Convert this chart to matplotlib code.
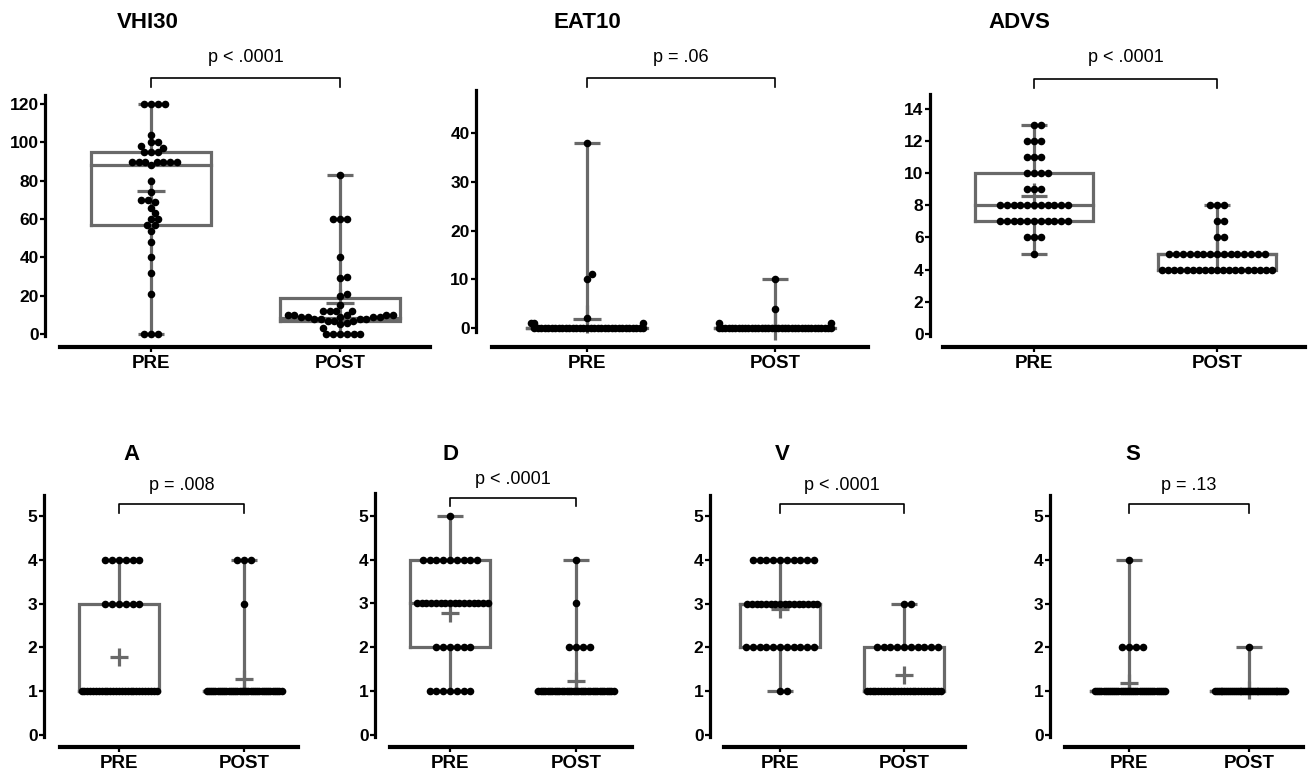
import numpy as np
import matplotlib
matplotlib.use('Agg')
import matplotlib.pyplot as plt
from matplotlib import transforms

# ---- values ----
vhi30_pre = [120, 120, 120, 120, 104, 100, 100, 98, 97, 95, 95, 95,
             90, 90, 90, 90, 90, 90, 90, 88, 80, 74, 70, 70, 69, 66, 63,
             60, 60, 57, 57, 54, 48, 40, 32, 21, 0, 0, 0]
vhi30_post = [83, 60, 60, 60, 40, 30, 29, 21, 20, 15, 12, 12, 12, 12,
              10, 10, 10, 10, 10, 9, 9, 9, 9, 9, 8, 8, 8, 8, 7, 7, 7,
              6, 5, 3, 0, 0, 0, 0, 0, 0]

# discrete scores: value levels and how many subjects sit on each
eat10_pre = np.repeat([0, 1, 2, 10, 11, 38], [32, 3, 1, 1, 1, 1])
eat10_post = np.repeat([0, 1, 4, 10], [35, 2, 1, 1])
advs_pre = np.repeat([5, 6, 7, 8, 9, 10, 11, 12, 13], [1, 3, 11, 11, 3, 4, 3, 3, 2])
advs_post = np.repeat([4, 5, 6, 7, 8], [19, 15, 2, 2, 3])
a_pre = np.repeat([1, 3, 4], [27, 6, 6])
a_post = np.repeat([1, 3, 4], [35, 1, 3])
d_pre = np.repeat([1, 2, 3, 4, 5], [7, 6, 16, 9, 1])
d_post = np.repeat([1, 2, 3, 4], [33, 4, 1, 1])
v_pre = np.repeat([1, 2, 3, 4], [2, 11, 16, 10])
v_post = np.repeat([1, 2, 3], [27, 10, 2])
s_pre = np.repeat([1, 2, 4], [34, 4, 1])
s_post = np.repeat([1, 2], [38, 1])

# box stats as drawn: (q1, median, q3, mean) for PRE and POST
vhi30_box = [(57, 88, 95, 74.4), (7, 8.5, 19, 16.3)]
eat10_box = [(0, 0, 0, 1.8), (0, 0, 0, 0.41)]
advs_box = [(7, 8, 10, 8.54), (4, 5, 5, 4.9)]
a_box = [(1, 1, 3, 1.77), (1, 1, 1, 1.28)]
d_box = [(2, 3, 4, 2.77), (1, 1, 1, 1.23)]
v_box = [(2, 3, 3, 2.87), (1, 1, 2, 1.36)]
s_box = [(1, 1, 1, 1.18), (1, 1, 1, 1.03)]

groups = ['PRE', 'POST']

W, H = 1309, 775
plt.rcParams['font.family'] = ['Liberation Sans', 'DejaVu Sans']
fig = plt.figure(figsize=(W / 100, H / 100), dpi=100)

GREY = '#696969'
DOT = 6.8      # dot spacing in px
PT = 0.72      # px -> pt


def swarm(vals, ppu_y, d, hw):
    # simple beeswarm in pixel space, then squeeze rows that get too wide
    vals = np.asarray(vals, float)
    xs = np.zeros(len(vals))
    px_, py_ = [], []
    for i in np.argsort(vals, kind='stable'):
        y = vals[i] * ppu_y
        cands = [0.0]
        for px, py in zip(px_, py_):
            dy = abs(py - y)
            if dy < d:
                dx = np.sqrt(d * d - dy * dy)
                cands += [px + dx, px - dx]
        cands.sort(key=abs)
        for c in cands:
            if all((c - px) ** 2 + (y - py) ** 2 >= d * d - 1e-6 for px, py in zip(px_, py_)):
                break
        xs[i] = c
        px_.append(c)
        py_.append(y)
    for v in np.unique(vals):
        m = vals == v
        ext = np.abs(xs[m]).max()
        if ext > hw:
            xs[m] *= hw / ext
    return xs


def panel(title, pre, post, box, pval, rect, xpos, ylim, yticks, yax, xline,
          title_xy, p_y, bracket):
    l, r, t, b = rect
    ax = fig.add_axes([l / W, 1 - b / H, (r - l) / W, (b - t) / H])
    ppu_x = xpos[1] - xpos[0]
    ax.set_xlim((l - xpos[0]) / ppu_x, (r - xpos[0]) / ppu_x)
    ax.set_ylim(*ylim)
    ppu_y = (b - t) / (ylim[1] - ylim[0])

    for pos, vals, (q1, med, q3, mean) in zip([0, 1], [pre, post], box):
        vals = np.asarray(vals, float)
        w = 0.32
        ax.plot([pos - w, pos + w, pos + w, pos - w, pos - w], [q1, q1, q3, q3, q1],
                color=GREY, lw=2.3, zorder=2, solid_joinstyle='miter')
        ax.plot([pos - w, pos + w], [med, med], color=GREY, lw=2.3, zorder=2)
        ax.plot([pos, pos], [q3, vals.max()], color=GREY, lw=2.3, zorder=2)
        ax.plot([pos, pos], [vals.min(), q1], color=GREY, lw=2.3, zorder=2)
        ax.plot([pos, pos], [vals.min(), vals.max()], ls='none', marker='_',
                ms=26 * PT, mew=2.3, color=GREY, zorder=2)
        ax.plot(pos, mean, marker='+', ms=0.145 * ppu_x * PT, mew=2.3,
                color=GREY, zorder=3, clip_on=False)
        xs = swarm(vals, ppu_y, DOT, 0.3 * ppu_x)
        ax.scatter(pos + xs / ppu_x, vals, s=(7.6 * PT) ** 2, c='black', lw=0,
                   zorder=4, clip_on=False)

    for s in ['top', 'right']:
        ax.spines[s].set_visible(False)
    ax.spines['left'].set_position(('outward', (l - yax) * PT))
    ax.spines['bottom'].set_position(('outward', (xline - b) * PT))
    ax.spines['left'].set_linewidth(2.3)
    ax.spines['bottom'].set_linewidth(3.0)
    ax.set_yticks(yticks, [str(v) for v in yticks], fontsize=12.5, fontweight='bold')
    ax.set_xticks([0, 1], groups, fontsize=13.5, fontweight='bold')
    ax.tick_params(axis='y', length=3.6, width=1.6, pad=1)
    ax.tick_params(axis='x', length=3.6, width=1.6, pad=2.5)

    fig.text(title_xy[0] / W, 1 - title_xy[1] / H, title, ha='center', va='center',
             fontsize=16, fontweight='bold')
    tr = transforms.blended_transform_factory(ax.transData, fig.transFigure)
    bar, leg = 1 - bracket[0] / H, 1 - bracket[1] / H
    ax.plot([0, 0, 1, 1], [leg, bar, bar, leg], transform=tr, color='black',
            lw=1.2, clip_on=False)
    ax.text(0.5, 1 - p_y / H, pval, transform=tr, ha='center', va='center',
            fontsize=13)


panel('VHI30', vhi30_pre, vhi30_post, vhi30_box, 'p < .0001',
      (60, 430, 95, 336), (151, 340), (-1.0, 124.7), range(0, 121, 20),
      45, 347, (148, 22), 58, (78, 87))
panel('EAT10', eat10_pre, eat10_post, eat10_box, 'p = .06',
      (492, 868, 90, 332), (587, 775), (-0.82, 48.9), range(0, 41, 10),
      476, 347, (587, 22), 58, (78, 87))
panel('ADVS', advs_pre, advs_post, advs_box, 'p < .0001',
      (943, 1305, 94, 336), (1034, 1217), (-0.12, 14.9), range(0, 15, 2),
      930, 347, (1019, 22), 58, (79, 88))

bottom_ylim = (-0.05, 5.48)
panel('A', a_pre, a_post, a_box, 'p = .008',
      (60, 298, 495, 737), (119, 244), bottom_ylim, range(0, 6),
      44, 747, (131, 455), 485, (504, 513))
panel('D', d_pre, d_post, d_box, 'p < .0001',
      (390, 632, 493, 737), (450, 576), (-0.05, 5.52), range(0, 6),
      375, 747, (451, 455), 480, (498, 506))
panel('V', v_pre, v_post, v_box, 'p < .0001',
      (724, 965, 495, 737), (780, 904), bottom_ylim, range(0, 6),
      710, 747, (782, 455), 485, (504, 513))
panel('S', s_pre, s_post, s_box, 'p = .13',
      (1065, 1303, 495, 737), (1129, 1249), bottom_ylim, range(0, 6),
      1050, 747, (1133, 455), 485, (504, 513))

fig.savefig('out.png', dpi=100, facecolor='white')
